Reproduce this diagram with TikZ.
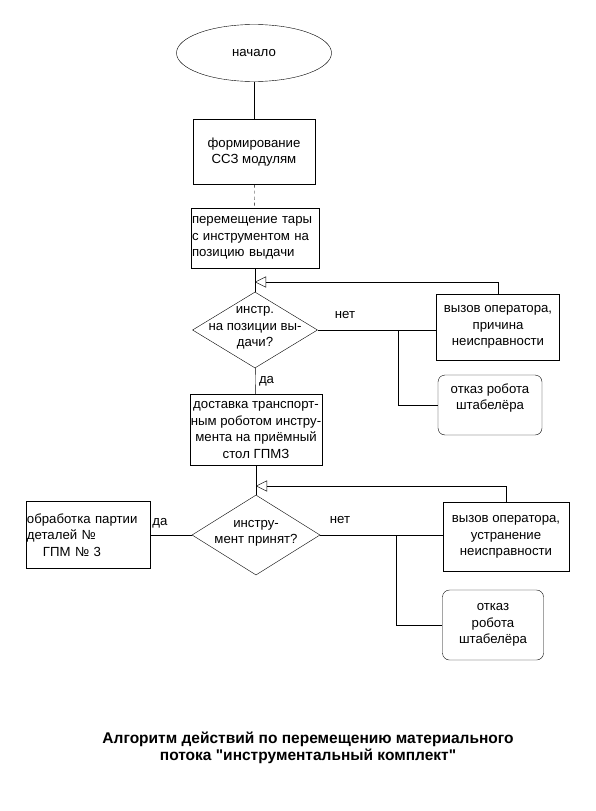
\documentclass[tikz,border=0pt]{standalone}
\usepackage{fontspec}
\setmainfont{Liberation Sans}
\usetikzlibrary{shapes.geometric, arrows.meta}

\tikzset{
  blk/.style={rectangle, draw, inner sep=1pt},
  lblk/.style={rectangle, draw, inner sep=1pt, align=left},
  rblk/.style={rectangle, rounded corners=7pt, draw, align=center},
  dec/.style={diamond, draw, inner sep=0pt},
  tri/.style={-{Triangle[open, length=11pt, width=11pt]}},
}
\newcommand{\dtext}[1]{\makebox[0pt]{\smash{\begin{tabular}{@{}c@{}}#1\end{tabular}}}}

\begin{document}
\begin{tikzpicture}[x=1pt, y=-1pt, font=\fontsize{13.2}{16.5}\selectfont]
		\useasboundingbox (0,0) rectangle (595,811);
		% main column
		\node at (254,53) [ellipse, draw, minimum width=155pt, minimum height=57pt] (start) {начало};
		\node at (254,152) [blk, minimum width=122pt, minimum height=65pt, align=center] (form) {формирование\\ССЗ модулям};
		\node at (255,238) [lblk, text width=126pt, minimum height=60pt] (move) {перемещение тары\\с инструментом на\\позицию выдачи};
		\node at (255,330) [dec, minimum width=125pt, minimum height=76pt] (chk1) {\dtext{инстр.\\на позиции вы-\\дачи?}};
		\node at (256,430) [blk, minimum width=130pt, minimum height=71pt, align=center] (deliv) {доставка транспорт-\\ным роботом инстру-\\мента на приёмный\\стол ГПМЗ};
		\node at (256,535) [dec, minimum width=128pt, minimum height=80pt] (chk2) {\dtext{инстру-\\мент принят?}};
		% right branches
		\node at (498,327) [blk, minimum width=123pt, minimum height=66pt, align=center] (op1) {вызов оператора,\\причина\\неисправности};
		\node at (490,405) [rblk, minimum width=104pt, minimum height=60pt] (fail1) {отказ робота\\штабелёра\\\mbox{}};
		\node at (506,537) [blk, minimum width=126pt, minimum height=69pt, align=center] (op2) {вызов оператора,\\устранение\\неисправности};
		\node at (493,625) [rblk, minimum width=101pt, minimum height=70pt] (fail2) {отказ\\робота\\штабелёра};
		% left branch
		\node at (88,535) [lblk, text width=122pt, minimum height=67pt] (proc) {обработка партии\\деталей №\\\hspace{16pt}ГПМ № 3};
		% connectors
		\coordinate (j1) at (255,282);
		\coordinate (j2) at (256,486);
		\coordinate (b1) at (398,330);
		\coordinate (b2) at (396,535);
		\draw (start) -- (form);
		\draw[dashed] (form) -- (move);
		\draw (move) -- (chk1);
		\draw[tri] (op1.north) |- (j1);
		\draw (chk1.east) -- (chk1.east -| op1.west);
		\draw (b1) |- (fail1.west);
		\draw (chk1) -- (deliv) node[right, midway] (yes1) {да};
		\node at (345,315) (no1) {нет};
		\draw (deliv) -- (chk2);
		\draw[tri] (op2.north) |- (j2);
		\draw (chk2.east) -- (chk2.east -| op2.west);
		\draw (b2) |- (fail2.west);
		\draw (chk2.west) -- (proc.east);
		\node at (160,523) (yes2) {да};
		\node at (340,520) (no2) {нет};
		% caption
		\node at (308,748) [font=\bfseries\fontsize{15.5}{16.5}\selectfont, align=center] (title) {Алгоритм действий по перемещению материального\\потока \textquotedbl инструментальный комплект\textquotedbl};
	\end{tikzpicture}
\end{document}
